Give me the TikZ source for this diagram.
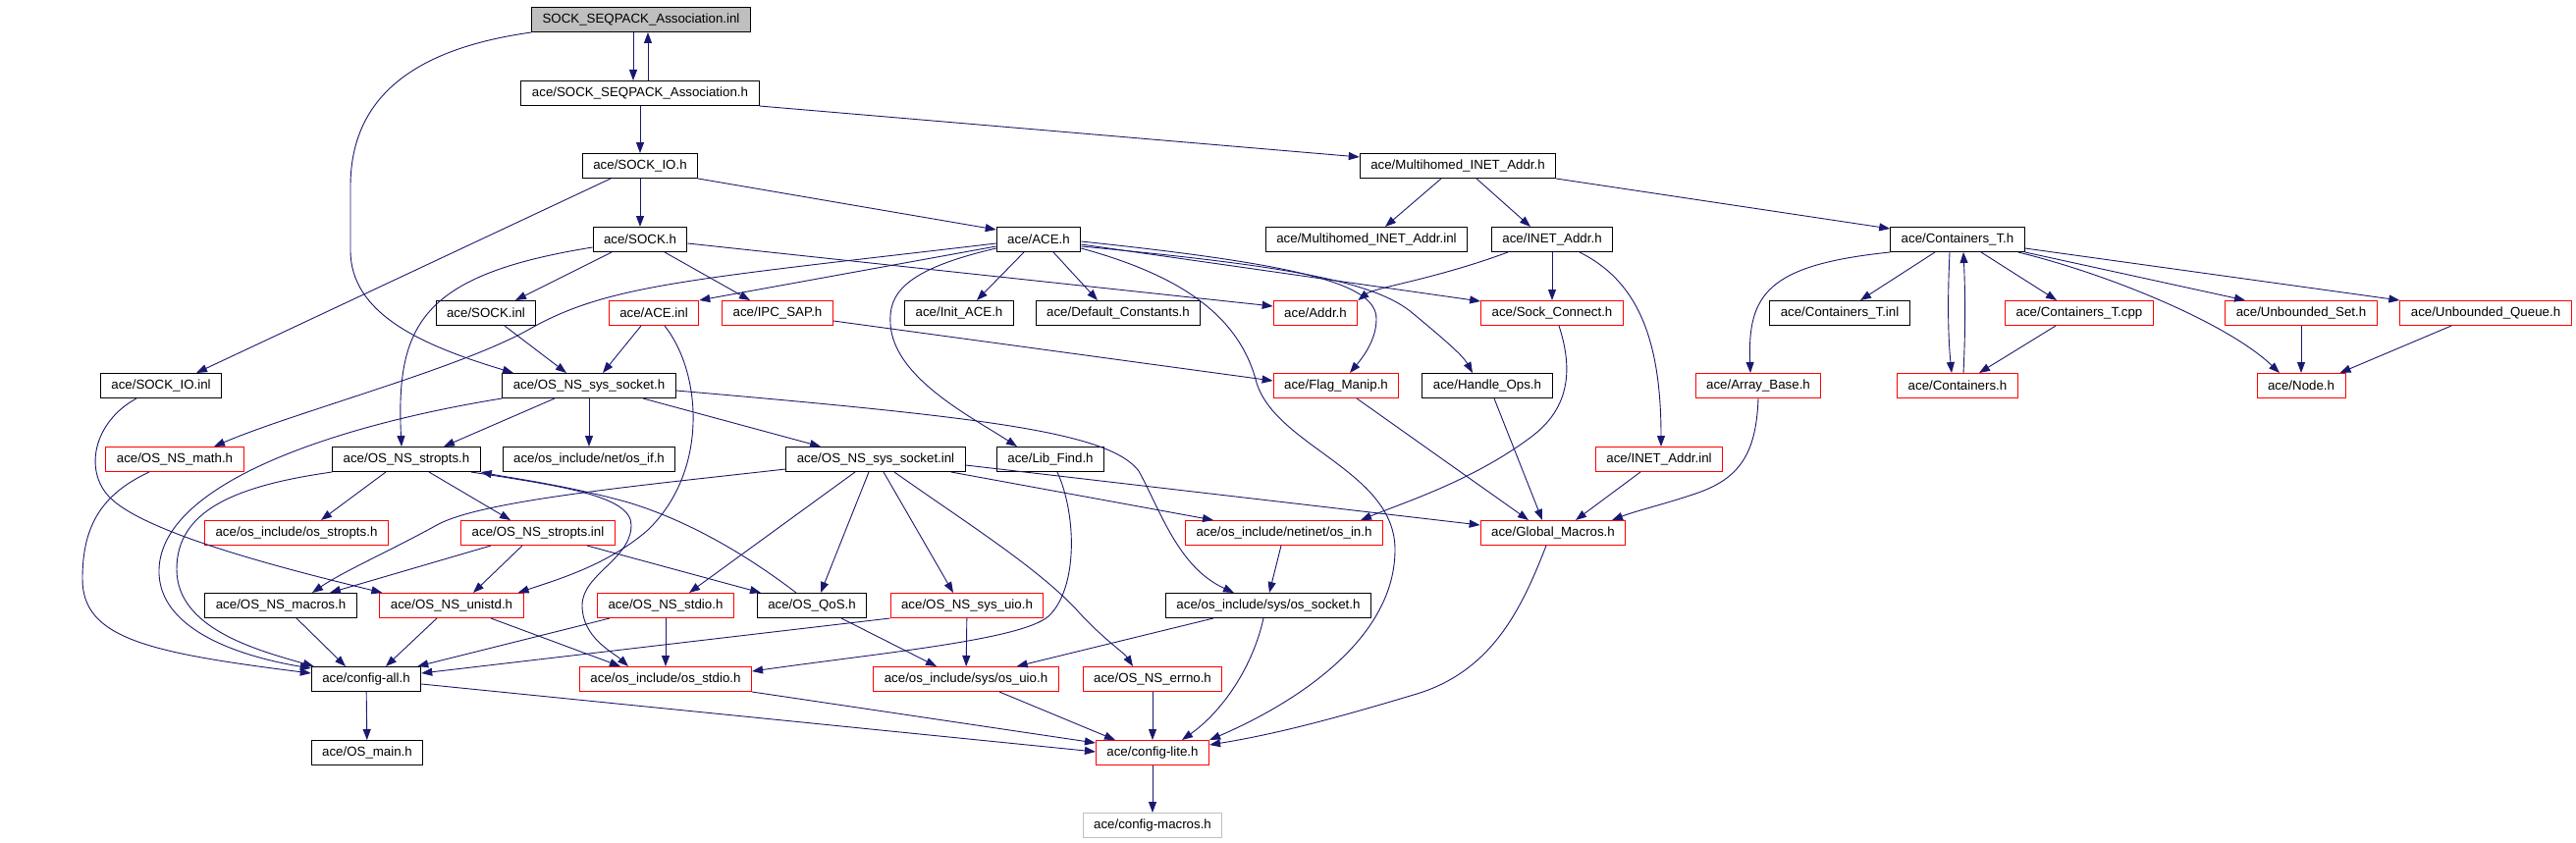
\documentclass[tikz,border=0pt]{standalone}
\usepackage{fontspec}
\setmainfont{Liberation Sans}
\usetikzlibrary{arrows.meta,calc}
\definecolor{edgeblue}{HTML}{191970}
\definecolor{graybox}{HTML}{BFBFBF}
\newcommand\nodefont{\fontsize{13.3}{16}\selectfont}
\begin{document}
\begin{tikzpicture}[x=1pt,y=-1pt,
  box/.style={draw=black,line width=1pt,minimum height=25pt,inner xsep=11pt,inner ysep=0pt,font=\nodefont,text=black},
  rbox/.style={box,draw=red},
  gbox/.style={box,draw=graybox},
  topbox/.style={box,fill=graybox},
  e/.style={draw=edgeblue,line width=0.9pt,-{Triangle[length=11pt,width=8pt]}}
]
\useasboundingbox (0,0) rectangle (2624,859);
% row 1
\node[topbox] (top) at (653,20) {SOCK\_SEQPACK\_Association.inl};
% row 2
\node[box] (seqh) at (652,95) {ace/SOCK\_SEQPACK\_Association.h};
% row 3
\node[box] (sockioh) at (652,169) {ace/SOCK\_IO.h};
\node[box] (mih) at (1485,169) {ace/Multihomed\_INET\_Addr.h};
% row 4
\node[box] (sockh) at (652,244) {ace/SOCK.h};
\node[box] (aceh) at (1058,244) {ace/ACE.h};
\node[box] (miinl) at (1392,244) {ace/Multihomed\_INET\_Addr.inl};
\node[box] (ineth) at (1581,244) {ace/INET\_Addr.h};
\node[box] (ctth) at (1994,244) {ace/Containers\_T.h};
% row 5
\node[box] (sockinl) at (495,319) {ace/SOCK.inl};
\node[rbox] (aceinl) at (666,319) {ace/ACE.inl};
\node[rbox] (ipcsap) at (792,319) {ace/IPC\_SAP.h};
\node[box] (initace) at (977,319) {ace/Init\_ACE.h};
\node[box] (defconst) at (1139,319) {ace/Default\_Constants.h};
\node[rbox] (addr) at (1340,319) {ace/Addr.h};
\node[rbox] (sockconn) at (1581,319) {ace/Sock\_Connect.h};
\node[box] (cttinl) at (1874,319) {ace/Containers\_T.inl};
\node[rbox] (cttcpp) at (2118,319) {ace/Containers\_T.cpp};
\node[rbox] (ubset) at (2344,319) {ace/Unbounded\_Set.h};
\node[rbox] (ubqueue) at (2532,319) {ace/Unbounded\_Queue.h};
% row 6
\node[box] (sockioinl) at (164,393) {ace/SOCK\_IO.inl};
\node[box] (nssock) at (600,393) {ace/OS\_NS\_sys\_socket.h};
\node[rbox] (flag) at (1361,393) {ace/Flag\_Manip.h};
\node[box] (handle) at (1515,393) {ace/Handle\_Ops.h};
\node[rbox] (arraybase) at (1791,393) {ace/Array\_Base.h};
\node[rbox] (containers) at (1994,393) {ace/Containers.h};
\node[rbox] (node) at (2344,393) {ace/Node.h};
% row 7
\node[rbox] (nsmath) at (178,468) {ace/OS\_NS\_math.h};
\node[box] (nsstropts) at (414,468) {ace/OS\_NS\_stropts.h};
\node[box] (osif) at (600,468) {ace/os\_include/net/os\_if.h};
\node[box] (nssockinl) at (892,468) {ace/OS\_NS\_sys\_socket.inl};
\node[box] (libfind) at (1070,468) {ace/Lib\_Find.h};
\node[rbox] (inetinl) at (1690,468) {ace/INET\_Addr.inl};
% row 8
\node[rbox] (osstropts) at (302,543) {ace/os\_include/os\_stropts.h};
\node[rbox] (nsstroptsinl) at (548,543) {ace/OS\_NS\_stropts.inl};
\node[rbox] (osin) at (1308,543) {ace/os\_include/netinet/os\_in.h};
\node[rbox] (globalm) at (1582,543) {ace/Global\_Macros.h};
% row 9
\node[box] (nsmacros) at (286,617) {ace/OS\_NS\_macros.h};
\node[rbox] (nsunistd) at (460,617) {ace/OS\_NS\_unistd.h};
\node[rbox] (nsstdio) at (678,617) {ace/OS\_NS\_stdio.h};
\node[box] (qos) at (827,617) {ace/OS\_QoS.h};
\node[rbox] (nsuio) at (985,617) {ace/OS\_NS\_sys\_uio.h};
\node[box] (ossocket) at (1292,617) {ace/os\_include/sys/os\_socket.h};
% row 10
\node[box] (configall) at (373,692) {ace/config-all.h};
\node[rbox] (osstdio) at (678,692) {ace/os\_include/os\_stdio.h};
\node[rbox] (osuio) at (984,692) {ace/os\_include/sys/os\_uio.h};
\node[rbox] (errno) at (1174,692) {ace/OS\_NS\_errno.h};
% row 11
\node[box] (osmain) at (374,767) {ace/OS\_main.h};
\node[rbox] (configlite) at (1174,767) {ace/config-lite.h};
% row 12
\node[gbox] (configmacros) at (1174,841) {ace/config-macros.h};

% ---- edges ----
\draw[e] ($(top.south)+(-8,0)$) -- ($(seqh.north)+(-7,0)$);
\draw[e] ($(seqh.north)+(8,0)$) -- ($(top.south)+(7,0)$);
\draw[e] (top.south west) .. controls (420,50) and (357,100) .. (357,190) -- (357,255) .. controls (357,320) and (430,352) .. ($(nssock.north)+(-77,0)$);

\draw[e] (seqh) -- (sockioh);
\draw[e] (seqh.south east) -- ($(mih.west)+(0,-9)$);

\draw[e] (sockioh) -- (sockh);
\draw[e] (sockioh.south east) -- ($(aceh.north west)+(0,3)$);
\draw[e] ($(sockioh.south)+(-30,0)$) -- ($(sockioinl.north)+(36,0)$);

\draw[e] ($(mih.south)+(-17,0)$) -- ($(miinl.north)+(19,0)$);
\draw[e] ($(mih.south)+(19,0)$) -- ($(ineth.north)+(-22,0)$);
\draw[e] (mih.south east) -- ($(ctth.north west)+(0,2)$);

\draw[e] ($(sockh.south)+(-29,0)$) -- ($(sockinl.north)+(30,0)$);
\draw[e] ($(sockh.south)+(25,0)$) -- ($(ipcsap.north)+(-28,0)$);
\draw[e] ($(sockh.east)+(0,4)$) -- ($(addr.west)+(0,-7)$);
\draw[e] ($(sockh.west)+(0,8)$) .. controls (430,280) and (403,330) .. ($(nsstropts.north)+(-5,0)$);

\draw[e] ($(aceh.west)+(0,7)$) -- (aceinl.north east);
\draw[e] ($(aceh.west)+(0,4)$) .. controls (700,285) and (620,290) .. (540,335) .. controls (470,375) and (300,420) .. ($(nsmath.north)+(40,0)$);
\draw[e] ($(aceh.west)+(0,9)$) .. controls (920,275) and (905,300) .. (907,330) .. controls (910,385) and (990,425) .. ($(libfind.north)+(-34,0)$);
\draw[e] ($(aceh.south)+(-15,0)$) -- ($(initace.north)+(18,0)$);
\draw[e] ($(aceh.south)+(15,0)$) -- ($(defconst.north)+(-21,0)$);
\draw[e] ($(aceh.east)+(0,2)$) .. controls (1330,270) and (1402,290) .. (1402,325) .. controls (1402,345) and (1390,362) .. ($(flag.north)+(14,0)$);
\draw[e] ($(aceh.east)+(0,5)$) -- ($(sockconn.north west)+(0,1)$);
\draw[e] ($(aceh.east)+(0,7)$) .. controls (1300,270) and (1400,285) .. (1440,320) .. controls (1470,345) and (1490,362) .. ($(handle.north)+(-15,0)$);
\draw[e] ($(aceh.east)+(0,9)$) .. controls (1200,280) and (1262,320) .. (1280,390) .. controls (1300,455) and (1421,480) .. (1421,560) .. controls (1421,660) and (1300,725) .. (configlite.north east);

\draw[e] ($(ineth.south)+(-45,0)$) .. controls (1460,285) and (1400,293) .. (addr.north east);
\draw[e] (ineth) -- (sockconn);
\draw[e] ($(ineth.south)+(28,0)$) .. controls (1665,285) and (1692,340) .. ($(inetinl.north)+(2,0)$);

\draw[e] ($(sockconn.south)+(7,0)$) .. controls (1602,375) and (1600,415) .. (1560,445) .. controls (1500,490) and (1430,512) .. ($(osin.north)+(78,0)$);

\draw[e] (ctth.south west) .. controls (1800,270) and (1780,300) .. ($(arraybase.north)+(-8,0)$);
\draw[e] ($(ctth.south)+(-23,0)$) -- ($(cttinl.north)+(21,0)$);
\draw[e] ($(ctth.south)+(-8,0)$) .. controls (1984,300) and (1984,340) .. ($(containers.north)+(-6,0)$);
\draw[e] ($(containers.north)+(6,0)$) .. controls (2002,340) and (2002,300) .. ($(ctth.south)+(6,0)$);
\draw[e] ($(ctth.south)+(24,0)$) -- ($(cttcpp.north)+(-23,0)$);
\draw[e] ($(ctth.south east)+(-7,0)$) .. controls (2150,280) and (2270,330) .. ($(node.north)+(-22,0)$);
\draw[e] (ctth.south east) -- ($(ubset.north)+(-57,0)$);
\draw[e] ($(ctth.east)+(0,9)$) -- (ubqueue.north west);
\draw[e] ($(cttcpp.south)+(-24,0)$) -- ($(containers.north)+(22,0)$);
\draw[e] (ubset) -- (node);
\draw[e] ($(ubqueue.south)+(-35,0)$) -- ($(node.north east)+(-6,0)$);

\draw[e] ($(sockinl.south)+(19,0)$) -- ($(nssock.north)+(-23,0)$);
\draw[e] ($(aceinl.south)+(-13,0)$) -- ($(nssock.north)+(14,0)$);
\draw[e] ($(aceinl.south)+(11,0)$) .. controls (715,380) and (722,480) .. (660,540) .. controls (620,575) and (570,590) .. ($(nsunistd.north east)+(-6,0)$);

\draw[e] (nssock) -- (osif);
\draw[e] ($(nssock.south)+(-35,0)$) -- ($(nsstropts.north)+(38,0)$);
\draw[e] ($(nssock.south)+(55,0)$) -- ($(nssockinl.north)+(-56,0)$);
\draw[e] (nssock.south west) .. controls (350,432) and (165,490) .. (162,580) .. controls (160,640) and (240,668) .. ($(configall.north west)+(0,2)$);
\draw[e] ($(nssock.east)+(0,5)$) .. controls (1000,425) and (1130,440) .. (1160,480) .. controls (1182,520) and (1200,578) .. ($(ossocket.north)+(-35,0)$);

\draw[e] (nsstropts.south west) .. controls (240,495) and (180,520) .. (180,580) .. controls (180,640) and (260,662) .. ($(configall.north west)+(3,0)$);
\draw[e] ($(nsstropts.south)+(-21,0)$) -- ($(osstropts.north)+(25,0)$);
\draw[e] ($(nsstropts.south)+(23,0)$) -- ($(nsstroptsinl.north)+(-28,0)$);
\draw[e] ($(nsstropts.south east)+(-10,0)$) .. controls (570,495) and (643,505) .. (643,535) .. controls (643,570) and (593,585) .. (593,617) .. controls (593,650) and (625,665) .. ($(osstdio.north)+(-38,0)$);
\draw[e] ($(qos.north)+(-16,0)$) .. controls (760,565) and (700,530) .. (640,512) .. controls (580,495) and (520,487) .. (nsstropts.south east);

\draw[e] ($(nsstroptsinl.south)+(-48,0)$) -- ($(nsmacros.north)+(50,0)$);
\draw[e] ($(nsstroptsinl.south)+(-16,0)$) -- ($(nsunistd.north)+(22,0)$);
\draw[e] ($(nsstroptsinl.south)+(50,0)$) -- ($(qos.north)+(-52,0)$);

\draw[e] ($(nssockinl.south west)+(0,-3)$) .. controls (650,495) and (490,510) .. (445,535) .. controls (400,560) and (350,582) .. ($(nsmacros.north)+(32,0)$);
\draw[e] ($(nssockinl.south)+(-21,0)$) -- ($(nsstdio.north)+(24,0)$);
\draw[e] ($(nssockinl.south)+(-7,0)$) -- ($(qos.north)+(9,0)$);
\draw[e] ($(nssockinl.south)+(8,0)$) -- ($(nsuio.north)+(-14,0)$);
\draw[e] ($(nssockinl.south)+(19,0)$) .. controls (980,530) and (1060,580) .. (1100,625) .. controls (1125,652) and (1145,665) .. ($(errno.north)+(-20,0)$);
\draw[e] ($(nssockinl.south east)+(-15,0)$) -- ($(osin.north)+(-72,0)$);
\draw[e] ($(nssockinl.east)+(0,6)$) -- ($(globalm.west)+(0,-8)$);

\draw[e] (nsstdio) -- (osstdio);
\draw[e] ($(nsstdio.south west)+(13,0)$) -- ($(configall.north east)+(-4,0)$);
\draw[e] (nsuio) -- (osuio);
\draw[e] (nsuio.south west) -- ($(configall.east)+(0,-6)$);
\draw[e] ($(qos.south)+(30,0)$) -- ($(osuio.north)+(-30,0)$);
\draw[e] ($(nsunistd.south)+(-15,0)$) -- ($(configall.north)+(20,0)$);
\draw[e] ($(nsunistd.south)+(40,0)$) -- ($(osstdio.north)+(-46,0)$);
\draw[e] ($(nsmacros.south)+(16,0)$) -- ($(configall.north)+(-21,0)$);

\draw[e] ($(nsmath.south)+(-26,0)$) .. controls (100,505) and (84,540) .. (84,590) .. controls (84,650) and (150,665) .. ($(configall.west)+(0,-6)$);
\draw[e] ($(sockioinl.south)+(-25,0)$) .. controls (95,430) and (85,480) .. (112,507) .. controls (150,545) and (300,582) .. ($(nsunistd.north west)+(3,0)$);

\draw[e] (configall) -- (osmain);
\draw[e] ($(configall.east)+(0,5)$) -- ($(configlite.west)+(0,-1)$);

\draw[e] (osstdio.south east) -- ($(configlite.west)+(0,-10)$);
\draw[e] ($(osuio.south)+(34,0)$) -- ($(configlite.north)+(-38,0)$);
\draw[e] (errno) -- (configlite);
\draw[e] (configlite) -- (configmacros);
\draw[e] ($(ossocket.south)+(-56,0)$) -- ($(osuio.north east)+(-43,0)$);
\draw[e] ($(ossocket.south)+(-5,0)$) .. controls (1276,680) and (1245,725) .. ($(configlite.north)+(30,0)$);
\draw[e] ($(osin.south)+(-3,0)$) -- ($(ossocket.north)+(1,0)$);

\draw[e] ($(libfind.south)+(7,0)$) .. controls (1097,525) and (1098,600) .. (1068,628) .. controls (1040,652) and (900,665) .. ($(osstdio.east)+(0,-8)$);

\draw[e] ($(globalm.south)+(-7,0)$) .. controls (1550,620) and (1520,685) .. (1440,708) .. controls (1360,732) and (1300,748) .. ($(configlite.east)+(0,-8)$);

\draw[e] ($(flag.south)+(21,0)$) -- ($(globalm.north)+(-25,0)$);
\draw[e] ($(handle.south)+(7,0)$) -- ($(globalm.north)+(-11,0)$);
\draw[e] ($(inetinl.south)+(-19,0)$) -- ($(globalm.north)+(23,0)$);
\draw[e] (arraybase.south) .. controls (1789,462) and (1772,487) .. (1730,502) .. controls (1695,514) and (1668,520) .. ($(globalm.north)+(60,0)$);

\draw[e] ($(ipcsap.east)+(0,8)$) -- ($(flag.west)+(0,-5)$);
\end{tikzpicture}
\end{document}
